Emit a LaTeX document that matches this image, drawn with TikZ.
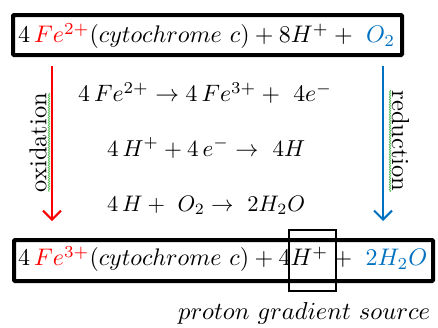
\documentclass[tikz,border=0pt]{standalone}
\usetikzlibrary{arrows.meta,decorations.pathmorphing}
\definecolor{oxred}{RGB}{255,0,0}
\definecolor{redblue}{RGB}{0,112,192}
\definecolor{spellgreen}{RGB}{80,190,80}
\begin{document}
\begin{tikzpicture}[x=1pt,y=-1pt,
  bigbox/.style={draw=black,line width=4pt,inner sep=0pt,rounded corners=1pt},
  smallbox/.style={draw=black,line width=1.4pt,inner sep=0pt},
  txt/.style={inner sep=0pt,anchor=west},
  redarrow/.style={draw=oxred,line width=2pt,-{Straight Barb[length=9pt,width=18pt,line width=2pt]}},
  bluearrow/.style={draw=redblue,line width=2pt,-{Straight Barb[length=9pt,width=18pt,line width=2pt]}},
  wavy/.style={draw=spellgreen,line width=0.7pt,decorate,decoration={snake,segment length=2.5pt,amplitude=0.8pt}}
]
\useasboundingbox (0,0) rectangle (438,327);
% boxes
\node[bigbox,minimum width=389pt,minimum height=40pt] (topbox) at (207.5,35) {};
\node[bigbox,minimum width=419pt,minimum height=41pt] (botbox) at (223.5,260.5) {};
\node[smallbox,minimum width=47pt,minimum height=61pt] (hbox) at (312.5,260.5) {};
% texts
\node[txt] (top) at (18,36) {\resizebox{377pt}{!}{$4\,{\color{oxred}Fe^{2+}}(cytochrome\ c)+8H^{+}+\ {\color{redblue}O_2}$}};
\node[txt] (eq1) at (78,93) {\resizebox{254pt}{!}{$4\,Fe^{2+}\rightarrow 4\,Fe^{3+}+\ 4e^{-}$}};
\node[txt] (eq2) at (107,148) {\resizebox{198pt}{!}{$4\,H^{+}+4\,e^{-}\rightarrow\ 4H$}};
\node[txt] (eq3) at (107,205) {\resizebox{198pt}{!}{$4\,H+\ O_2\rightarrow\ 2H_2O$}};
\node[txt] (bottom) at (18,259) {\resizebox{409pt}{!}{$4\,{\color{oxred}Fe^{3+}}(cytochrome\ c)+4H^{+}+\ {\color{redblue}2H_2O}$}};
\node[txt] (proton) at (178,313) {\resizebox{252pt}{!}{$proton\ gradient\ source$}};
% side labels
\node[inner sep=0pt,rotate=90] (ox) at (38,142.5) {\resizebox{99pt}{!}{oxidation}};
\node[inner sep=0pt,rotate=-90] (red) at (400.5,141) {\resizebox{101pt}{!}{reduction}};
\draw[wavy] (49,93) -- (49,192);
\draw[wavy] (390,90) -- (390,192);
% arrows
\coordinate (rs) at (52,66);
\coordinate (re) at (52,221);
\coordinate (bs) at (383,66);
\coordinate (be) at (383,221);
\draw[redarrow] (rs) -- (re);
\draw[bluearrow] (bs) -- (be);
\end{tikzpicture}
\end{document}
